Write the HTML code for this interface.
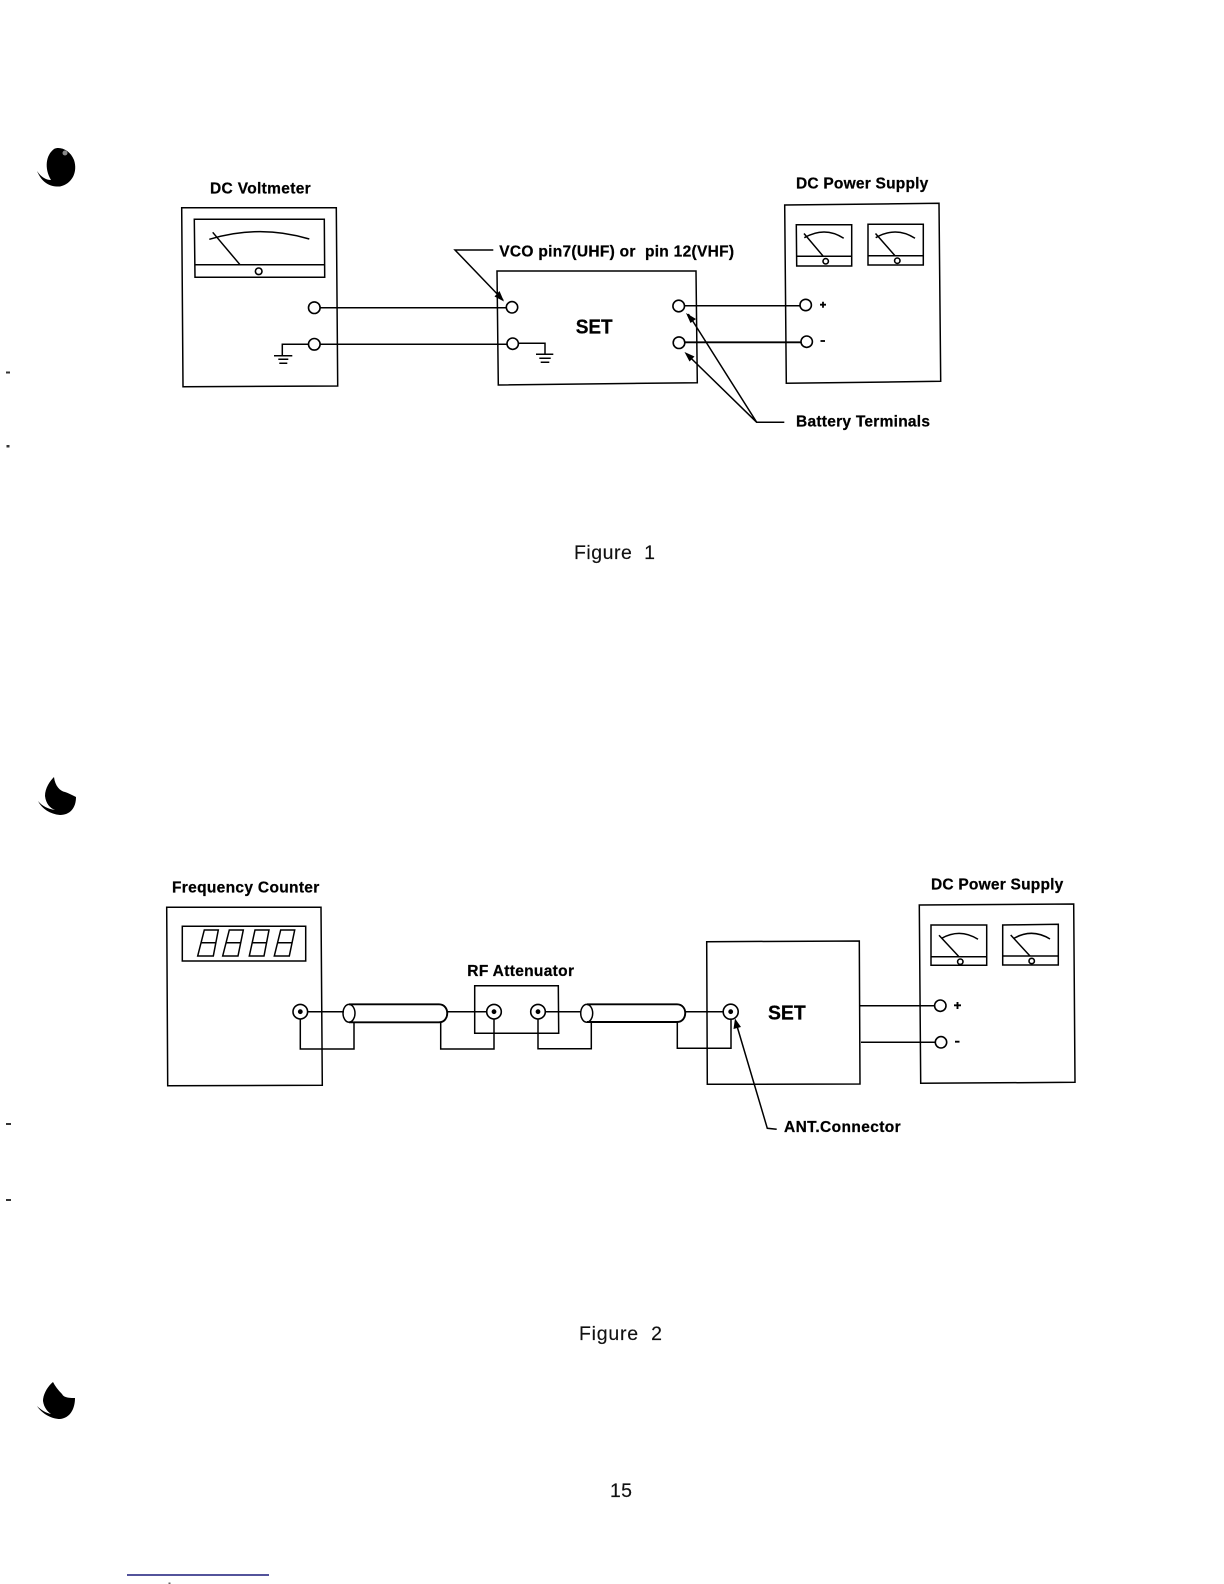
<!DOCTYPE html>
<html>
<head>
<meta charset="utf-8">
<style>
html,body{margin:0;padding:0;background:#fff}
svg{display:block;position:absolute;left:0;top:0;filter:blur(0.25px)}
text{font-family:"Liberation Sans",sans-serif;fill:#000}
.b{font-weight:bold;font-size:15.5px;stroke:#000;stroke-width:0.25}
.s{font-weight:bold;font-size:20px;stroke:#000;stroke-width:0.25}
.f{font-size:19.5px;fill:#111;stroke:#111;stroke-width:0.15}
.l{fill:none;stroke:#000;stroke-width:1.5}
.t{fill:none;stroke:#000;stroke-width:1.9}
.c{fill:#fff;stroke:#000;stroke-width:1.6}
</style>
</head>
<body>
<svg width="1224" height="1584" viewBox="0 0 1224 1584" xmlns="http://www.w3.org/2000/svg">
<rect width="1224" height="1584" fill="#fff"/>

<!-- blobs -->
<path d="M54 149 C60 146 70 150 74 160 C78 172 72 184 60 186.5 C50 187 42 183 37 171 C41 177 46 180 51 180 C44 168 46 155 54 149Z" fill="#000"/>
<circle cx="65" cy="153" r="2.5" fill="#888"/>
<path d="M54 777 C50 781 45 788 45 796 C46 804 50 808 55 810 C48 809 42 806 38 801 C42 809 50 814 60 815 C70 815 76 808 76 797 C72 795 68 793 65 792 C60 791 55 786 54 777Z" fill="#000"/>
<path d="M53 1382 C48 1386 43 1394 43 1401 C44 1408 48 1412 51 1414 C46 1413 41 1410 37 1406 C42 1414 52 1419 60 1419 C70 1418 75 1409 75 1398 C70 1398 64 1398 62 1394 C58 1390 55 1386 53 1382Z" fill="#000"/>
<rect x="6" y="371.5" width="4" height="2" fill="#333"/>
<rect x="6.5" y="445" width="3" height="2.5" fill="#333"/>
<rect x="6" y="1123" width="5" height="2" fill="#333"/>
<rect x="6" y="1199" width="5" height="2" fill="#333"/>

<!-- ===== FIGURE 1 ===== -->
<text class="b" x="210" y="193.3" textLength="100.7" lengthAdjust="spacing">DC Voltmeter</text>
<path class="l" d="M181.7 207.7 L336.3 207.7 L337.7 386 L183 386.7Z"/>
<path class="l" d="M194.3 219.3 L324.3 219.3 L324.7 277.3 L195 277.3Z"/>
<path class="l" d="M194.7 264.7 H324.5"/>
<circle class="c" cx="258.7" cy="271.3" r="3.3"/>
<path class="l" d="M209.3 239.3 Q260 224 309.3 239"/>
<path class="l" d="M212.7 232.3 L240 264.7"/>

<path class="l" d="M320 307.7 H506"/>
<path class="l" d="M320 344.3 H507"/>
<circle class="c" cx="314.3" cy="307.7" r="5.8"/>
<circle class="c" cx="314.3" cy="344.3" r="5.8"/>
<path class="l" d="M308.5 344.3 H282.3 V355.7"/>
<path class="l" d="M274 355.7 H292.3 M278.3 359.3 H288.3 M279.3 363.3 H287.3"/>

<path class="l" d="M497 271 H696 L697.3 382.7 L498.3 385Z"/>
<circle class="c" cx="512" cy="307.3" r="5.7"/>
<circle class="c" cx="512.7" cy="343.7" r="5.7"/>
<path class="l" d="M518.4 343.3 H545 V354.3"/>
<path class="l" d="M536 354.3 H553.3 M539.3 358.3 H550.7 M540.7 362.3 H549.3"/>
<text class="s" x="575.7" y="333.3" textLength="37" lengthAdjust="spacingAndGlyphs">SET</text>

<path class="l" d="M493.3 250 H455 L503 300"/>
<path d="M504 301.5 L494.5 296.5 L499.5 291Z" fill="#000"/>
<text class="b" x="499.3" y="256.7" textLength="234.7" lengthAdjust="spacing" xml:space="preserve">VCO pin7(UHF) or  pin 12(VHF)</text>

<circle class="c" cx="678.7" cy="306" r="5.8"/>
<circle class="c" cx="679" cy="342.7" r="5.8"/>
<path class="l" d="M684.5 305.7 H800"/>
<path class="t" d="M684.8 342.3 H801"/>

<path class="l" d="M784.3 422.3 H756.7 L688.3 314 M756.7 422.3 L686.7 354"/>
<path d="M686 313 L696 319 L690.5 323Z" fill="#000"/>
<path d="M684.5 352 L694.5 356.5 L689.5 361.5Z" fill="#000"/>
<text class="b" x="796" y="426.7" textLength="134" lengthAdjust="spacing">Battery Terminals</text>

<text class="b" x="796" y="188.3" textLength="132.3" lengthAdjust="spacing">DC Power Supply</text>
<path class="l" d="M784.7 205 L939 203.3 L940.7 381.3 L786.3 383.3Z"/>
<path class="l" d="M796.3 224.7 H851.7 V266 H796.7Z"/>
<path class="l" d="M796.5 256.3 H851.7"/>
<circle class="c" cx="825.7" cy="261.3" r="2.7"/>
<path class="l" d="M804.3 237.7 Q825 226 843.7 238.3"/>
<path class="l" d="M804 233.5 L823.3 256.3"/>
<path class="l" d="M868 224.3 H923.3 V265 H868Z"/>
<path class="l" d="M868 255.7 H923.3"/>
<circle class="c" cx="897.3" cy="260.7" r="2.7"/>
<path class="l" d="M875.7 237.7 Q896 226 915 238.3"/>
<path class="l" d="M875.5 233.5 L895 255.7"/>
<circle class="c" cx="805.7" cy="305" r="5.7"/>
<circle class="c" cx="806.7" cy="341.7" r="5.7"/>
<path d="M820 304.7 H826 M823 301.7 V307.7" stroke="#000" stroke-width="1.8" fill="none"/>
<path d="M820.5 341 H825" stroke="#000" stroke-width="1.8" fill="none"/>

<text class="f" x="574" y="559" textLength="81" lengthAdjust="spacing" xml:space="preserve">Figure  1</text>

<!-- ===== FIGURE 2 ===== -->
<text class="b" x="172" y="892.3" textLength="147.3" lengthAdjust="spacing">Frequency Counter</text>
<path class="l" d="M166.7 907.3 H321 L322.3 1085.3 L167.7 1085.7Z"/>
<path class="l" d="M182.3 926.3 H305.7 V961 H182.3Z"/>
<path class="l" d="M204.3 930 H218.3 L213.3 956 H197.7Z M201 942.7 H216"/>
<path class="l" d="M229.3 930 H243.3 L238 956 H222.7Z M226 942.7 H240.5"/>
<path class="l" d="M255 930 H269 L264 956 H249.3Z M252 942.7 H266.5"/>
<path class="l" d="M280.7 930 H294.7 L289.3 956 H274.3Z M277.5 942.7 H292"/>

<path class="l" d="M300.3 1011.7 H344"/>
<path class="l" d="M300.3 1018.7 V1049 H354 V1022.3"/>
<circle class="c" cx="300.3" cy="1011.7" r="7.3"/>
<circle cx="300.3" cy="1011.7" r="2.4" fill="#000"/>
<path class="t" d="M349 1004.3 H439 C450 1004.3 450 1022.3 439 1022.3 H349"/>
<ellipse class="l" cx="349" cy="1013.3" rx="6" ry="8.9"/>
<path class="l" d="M447.7 1011.7 H487"/>
<path class="l" d="M440.7 1022.3 V1049 H494 V1019"/>

<text class="b" x="467.3" y="976" textLength="106.7" lengthAdjust="spacing">RF Attenuator</text>
<path class="l" d="M474.7 985.7 H558.3 L558.7 1033.3 H474.7Z"/>
<circle class="c" cx="494" cy="1011.7" r="7.3"/>
<circle cx="494" cy="1011.7" r="2.4" fill="#000"/>
<circle class="c" cx="538" cy="1011.7" r="7.3"/>
<circle cx="538" cy="1011.7" r="2.4" fill="#000"/>
<path class="l" d="M545.3 1011.7 H581"/>
<path class="l" d="M538 1019 V1048.7 H591.3 V1022.3"/>

<path class="t" d="M587 1004.3 H677 C688 1004.3 688 1022 677 1022 H587"/>
<ellipse class="l" cx="586.7" cy="1013.3" rx="6" ry="8.9"/>
<path class="l" d="M685.7 1011.7 H723.5"/>
<path class="l" d="M677.3 1022 V1048.3 H731 V1019"/>

<path class="l" d="M706.7 941.7 L859.3 941 L860 1084 L707.3 1084.3Z"/>
<circle class="c" cx="730.7" cy="1011.7" r="7.5"/>
<circle cx="730.7" cy="1011.7" r="2.4" fill="#000"/>
<text class="s" x="768" y="1019.3" textLength="37.7" lengthAdjust="spacingAndGlyphs">SET</text>

<path class="l" d="M776.7 1129.3 L767.3 1128.3 L735.5 1021"/>
<path d="M735 1018.5 L741 1027 L733.5 1029Z" fill="#000"/>
<text class="b" x="784" y="1132" textLength="116.7" lengthAdjust="spacing">ANT.Connector</text>

<path class="l" d="M860 1005.7 H935"/>
<path class="l" d="M861 1042.3 H936"/>

<text class="b" x="931" y="889.3" textLength="132.3" lengthAdjust="spacing">DC Power Supply</text>
<path class="l" d="M919.3 905 L1073.7 904 L1075 1082.3 L920.7 1083.3Z"/>
<path class="l" d="M931 925 H986.7 V965.3 H931Z"/>
<path class="l" d="M931 956.7 H986.7"/>
<circle class="c" cx="960.3" cy="961.7" r="2.7"/>
<path class="l" d="M941.7 938.3 Q960 928 978 939.3"/>
<path class="l" d="M939 935.3 L959 956.7"/>
<path class="l" d="M1002.7 925 L1058.3 924.3 V965 H1002.7Z"/>
<path class="l" d="M1002.7 956 H1058.3"/>
<circle class="c" cx="1031.7" cy="961" r="2.7"/>
<path class="l" d="M1014 938.3 Q1032 928 1050 939"/>
<path class="l" d="M1010.7 935 L1030 956"/>
<circle class="c" cx="940.3" cy="1005.7" r="5.7"/>
<circle class="c" cx="941" cy="1042.3" r="5.7"/>
<path d="M954 1005.3 H961 M957.5 1002 V1009" stroke="#000" stroke-width="1.9" fill="none"/>
<path d="M955 1041.7 H959.5" stroke="#000" stroke-width="1.9" fill="none"/>

<text class="f" x="579" y="1340" textLength="83" lengthAdjust="spacing" xml:space="preserve">Figure  2</text>
<text class="f" x="610" y="1497" textLength="22" lengthAdjust="spacing">15</text>

<path d="M127 1575 H269" stroke="#1a1a7a" stroke-width="1.4" fill="none"/>
<rect x="168.5" y="1582.5" width="2" height="1.5" fill="#666"/>
</svg>
</body>
</html>
